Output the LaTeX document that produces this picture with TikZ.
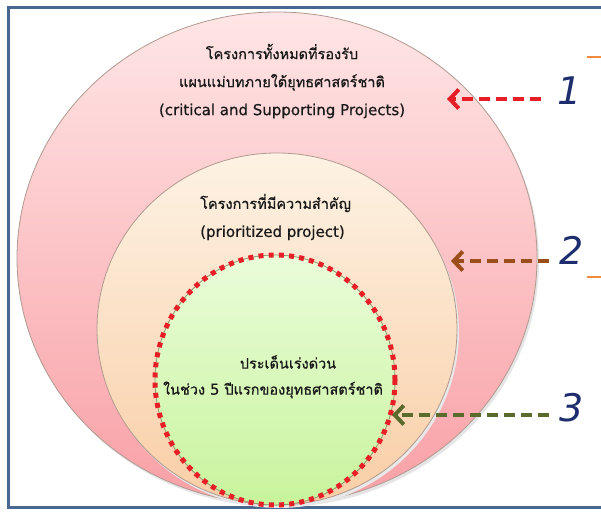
\documentclass[tikz,border=0pt]{standalone}
\usepackage{fontspec}
\usetikzlibrary{arrows.meta}
\newfontfamily\thaifont[Script=Thai,FakeBold=0.8]{Loma}
\newfontfamily\latfont[FakeBold=0.6]{DejaVu Sans}
\newfontfamily\numfont{DejaVu Sans}
\definecolor{framec}{HTML}{48688F}
\definecolor{numc}{HTML}{1E2D6E}
\definecolor{redar}{HTML}{E81E26}
\definecolor{brownar}{HTML}{9C4E1A}
\definecolor{greenar}{HTML}{5B6B2E}
\definecolor{orangec}{HTML}{F08A3C}
\definecolor{edgec}{HTML}{B09A90}
\tikzset{
  circtext/.style={font=\thaifont\fontsize{14.5}{28}\selectfont, text=black!90, align=center, inner sep=0pt},
  numlbl/.style={font=\numfont\itshape\fontsize{38}{40}\selectfont, text=numc, inner sep=0pt},
  pointer/.style={line width=4.5pt, dash pattern=on 11pt off 6pt, -{Straight Barb[length=9pt,width=19pt,line width=4pt]}},
  circedge/.style={draw=edgec, line width=0.8pt},
}
\newcommand{\lat}[1]{{\latfont\fontsize{15}{28}\selectfont #1}}
\begin{document}
\begin{tikzpicture}[x=1pt,y=1pt]
\useasboundingbox (0,0) rectangle (601,512);
\clip (0,0) rectangle (601,512);
\fill[white] (0,0) rectangle (601,512);
% frame
\draw[framec, line width=3pt] (8,5) rectangle (640,504);
% shadows
\fill[black!10] (279,251) ellipse [x radius=260, y radius=246];
% outer
\shade[top color=red!10, bottom color={rgb,255:red,248;green,160;blue,166}, circedge] (277,254) ellipse [x radius=260, y radius=246];
\fill[black!9] (279,180) ellipse [x radius=180, y radius=176];
\shade[top color={rgb,255:red,253;green,242;blue,228}, bottom color={rgb,255:red,249;green,206;blue,166}, circedge] (277,183) ellipse [x radius=180, y radius=176];
% inner
\shade[top color={rgb,255:red,234;green,252;blue,218}, bottom color={rgb,255:red,200;green,244;blue,156}, draw=greenar!70, line width=0.8pt] (275,132) ellipse [x radius=120, y radius=125];
\draw[redar, line width=5pt, dash pattern=on 5pt off 5.2pt] (275,132) ellipse [x radius=120, y radius=125];
% texts
\node[circtext] (t1) at (282,431) {โครงการทั้งหมดที่รองรับ\\แผนแม่บทภายใต้ยุทธศาสตร์ชาติ\\\lat{(critical and Supporting Projects)}};
\node[circtext, align=left, anchor=west] (t2) at (200,295) {โครงการที่มีความสำคัญ\\\lat{(prioritized project)}};
\node[circtext] (t3a) at (288,150) {ประเด็นเร่งด่วน};
\node[circtext] (t3b) at (273,122) {ในช่วง \lat{5} ปีแรกของยุทธศาสตร์ชาติ};
% numbers
\node[numlbl] (n1) at (570,421) {1};
\node[numlbl] (n2) at (572,262) {2};
\node[numlbl] (n3) at (572,104) {3};
% pointer tips
\coordinate (p1) at (447,413);
\coordinate (p2) at (451,251);
\coordinate (p3) at (392,97);
\coordinate (s1) at (541,413);
\coordinate (s2) at (549,251);
\coordinate (s3) at (549,97);
\draw[pointer, redar] (s1) -- (p1);
\draw[pointer, brownar] (s2) -- (p2);
\draw[pointer, greenar] (s3) -- (p3);
% orange marks
\coordinate (o1a) at (587,455); \coordinate (o1b) at (605,455);
\coordinate (o2a) at (587,235); \coordinate (o2b) at (605,235);
\draw[orangec, line width=1.8pt] (o1a) -- (o1b);
\draw[orangec, line width=1.8pt] (o2a) -- (o2b);
\end{tikzpicture}
\end{document}
